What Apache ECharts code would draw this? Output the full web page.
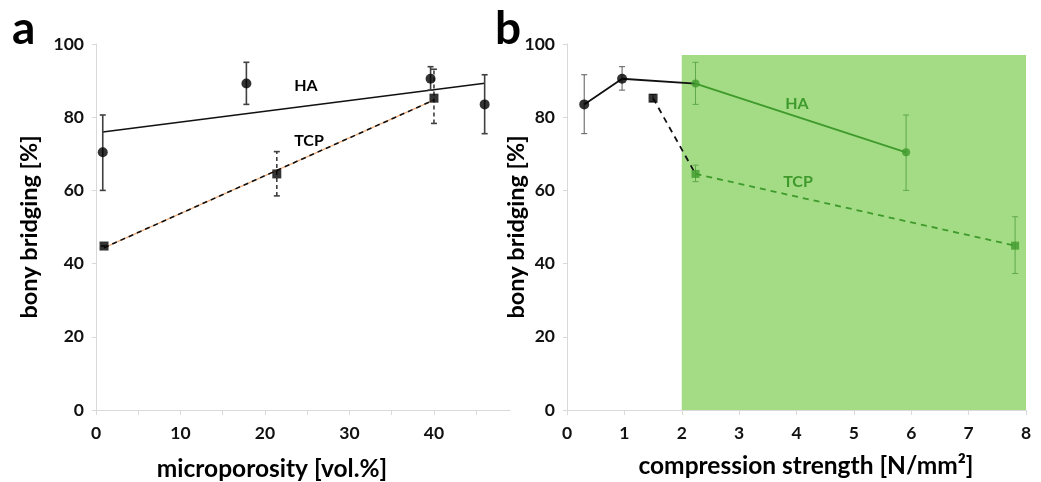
<!DOCTYPE html>
<html>
<head>
<meta charset="utf-8">
<script src="https://cdn.jsdelivr.net/npm/echarts@6/dist/echarts.min.js"></script>
<style>html,body{margin:0;padding:0;background:#fff}#c{width:1041px;height:482px}</style>
</head>
<body>
<div id="c"></div>
<script>
// ---------- Panel a: microporosity ----------
const haPoroX  = [0.8, 17.8, 39.6, 46.0];
const haPoroY  = [70.4, 89.2, 90.5, 83.5];
const haPoroLo = [60.0, 83.5, 87.4, 75.5];
const haPoroHi = [80.6, 95.0, 93.8, 91.6];

const tcpPoroX  = [0.95, 21.4, 40.0];
const tcpPoroY  = [44.8, 64.5, 85.2];
const tcpPoroLo = [44.8, 58.5, 78.3];
const tcpPoroHi = [44.8, 70.6, 93.1];

// ---------- Panel b: compression strength ----------
const haStrBlackX  = [0.3, 0.96, 2.24];
const haStrBlackY  = [83.5, 90.5, 89.2];
const haStrBlackLo = [75.5, 87.4];
const haStrBlackHi = [91.6, 93.8];
const haStrGreenX  = [2.24, 5.91];
const haStrGreenY  = [89.2, 70.4];
const haStrGreenLo = [83.5, 60.0];
const haStrGreenHi = [95.0, 80.6];

const tcpStrBlackX  = [1.5, 2.24];
const tcpStrBlackY  = [85.2, 64.5];
const tcpStrBlackLo = [84.3];
const tcpStrBlackHi = [86.2];
const tcpStrGreenX  = [2.24, 7.81];
const tcpStrGreenY  = [64.5, 44.9];
const tcpStrGreenLo = [62.4, 37.3];
const tcpStrGreenHi = [66.9, 52.8];

// shaded region in panel b (strength range, bony bridging range)
const shadeX = [2, 8];
const shadeY = [0, 97];

// tick labels
const yTicks = [0, 20, 40, 60, 80, 100];
const poroLabels = [0, 10, 20, 30, 40];
const poroTicks = [0, 5, 10, 15, 20, 25, 30, 35, 40, 45];
const strTicks = [0, 1, 2, 3, 4, 5, 6, 7, 8];

const FONT = 'Lato, "Open Sans", sans-serif';
const GREEN = '#3F9A2C';
const SHADE = '#A3DC85';

function pts(xs, ys, n) { return (n ? xs.slice(0, n) : xs).map((x, i) => [x, ys[i]]); }
function errs(xs, lo, hi) { return lo.map((l, i) => [xs[i], l, hi[i]]); }
function regression(xs, ys) {
  const n = xs.length;
  const mx = xs.reduce((a, b) => a + b, 0) / n;
  const my = ys.reduce((a, b) => a + b, 0) / n;
  let sxy = 0, sxx = 0;
  for (let i = 0; i < n; i++) { sxy += (xs[i] - mx) * (ys[i] - my); sxx += (xs[i] - mx) ** 2; }
  const b = sxy / sxx, a = my - b * mx;
  const x0 = Math.min(...xs), x1 = Math.max(...xs);
  return [[x0, a + b * x0], [x1, a + b * x1]];
}

function errSeries(xi, yi, data, color, width, dashed, z) {
  return {
    type: 'custom', xAxisIndex: xi, yAxisIndex: yi, z: z || 3, silent: true,
    data: data,
    renderItem: function (params, api) {
      const x = api.value(0);
      const p1 = api.coord([x, api.value(1)]);
      const p2 = api.coord([x, api.value(2)]);
      const st = { stroke: color, lineWidth: width, lineDash: dashed ? [4, 3] : null };
      const cw = 3;
      return {
        type: 'group', children: [
          { type: 'line', shape: { x1: p1[0], y1: p1[1], x2: p2[0], y2: p2[1] }, style: st },
          { type: 'line', shape: { x1: p1[0] - cw, y1: p1[1], x2: p1[0] + cw, y2: p1[1] }, style: { stroke: color, lineWidth: width } },
          { type: 'line', shape: { x1: p2[0] - cw, y1: p2[1], x2: p2[0] + cw, y2: p2[1] }, style: { stroke: color, lineWidth: width } }
        ]
      };
    }
  };
}

const axisLineStyle = { lineStyle: { color: '#D9D9D9', width: 1 } };
const tickLabel = { color: '#111', fontFamily: FONT, fontWeight: 'bold', fontSize: 17.5 };

function yAxis(idx) {
  return {
    type: 'value', gridIndex: idx, min: 0, max: 100, interval: 20,
    axisLine: Object.assign({ show: true }, axisLineStyle),
    axisTick: { show: true, length: 4, lineStyle: { color: '#D9D9D9' } },
    splitLine: { show: false },
    axisLabel: Object.assign({ margin: 12, customValues: yTicks }, tickLabel)
  };
}

const chart = echarts.init(document.getElementById('c'), null, { renderer: 'canvas' });

const haReg = regression(haPoroX, haPoroY);
const tcpReg = regression(tcpPoroX, tcpPoroY);

chart.setOption({
  animation: false,
  backgroundColor: '#fff',
  grid: [
    { left: 96, top: 44, width: 414, height: 366 },
    { left: 567, top: 44, width: 459, height: 366 }
  ],
  xAxis: [
    {
      type: 'value', gridIndex: 0, min: 0, max: 49,
      axisLine: Object.assign({ show: true, onZero: false }, axisLineStyle),
      axisTick: { show: true, length: 5, lineStyle: { color: '#D9D9D9' }, customValues: poroTicks },
      splitLine: { show: false },
      axisLabel: Object.assign({ margin: 14, customValues: poroLabels }, tickLabel)
    },
    {
      type: 'value', gridIndex: 1, min: 0, max: 8, interval: 1,
      axisLine: Object.assign({ show: true, onZero: false }, axisLineStyle),
      axisTick: { show: true, length: 5, lineStyle: { color: '#D9D9D9' }, customValues: strTicks },
      splitLine: { show: false },
      axisLabel: Object.assign({ margin: 14, customValues: strTicks }, tickLabel)
    }
  ],
  yAxis: [yAxis(0), yAxis(1)],
  series: [
    // ----- panel a -----
    { type: 'line', xAxisIndex: 0, yAxisIndex: 0, data: haReg, showSymbol: false, z: 2,
      lineStyle: { color: '#111', width: 1.6 } },
    { type: 'line', xAxisIndex: 0, yAxisIndex: 0, data: tcpReg, showSymbol: false, z: 2,
      lineStyle: { color: '#F4A46A', width: 1.3 } },
    { type: 'line', xAxisIndex: 0, yAxisIndex: 0, data: tcpReg, showSymbol: false, z: 2,
      lineStyle: { color: '#111', width: 1.6, type: [5, 4] } },
    errSeries(0, 0, errs(haPoroX, haPoroLo, haPoroHi), '#404040', 1.6, false),
    errSeries(0, 0, errs(tcpPoroX, tcpPoroLo, tcpPoroHi), '#404040', 1.6, true),
    { type: 'scatter', xAxisIndex: 0, yAxisIndex: 0, data: pts(haPoroX, haPoroY), symbol: 'circle', symbolSize: 10, z: 5,
      itemStyle: { color: '#000' } },
    { type: 'scatter', xAxisIndex: 0, yAxisIndex: 0, data: pts(tcpPoroX, tcpPoroY), symbol: 'rect', symbolSize: 9, z: 5,
      itemStyle: { color: '#000' } },
    // ----- panel b -----
    { type: 'line', xAxisIndex: 1, yAxisIndex: 1, data: [], z: 0, silent: true,
      markArea: { silent: true, itemStyle: { color: SHADE, opacity: 1 },
        data: [[{ coord: [shadeX[0], shadeY[0]] }, { coord: [shadeX[1], shadeY[1]] }]] } },
    { type: 'line', xAxisIndex: 1, yAxisIndex: 1, data: pts(haStrBlackX, haStrBlackY), showSymbol: false, z: 2,
      lineStyle: { color: '#111', width: 1.8 } },
    { type: 'line', xAxisIndex: 1, yAxisIndex: 1, data: pts(tcpStrBlackX, tcpStrBlackY), showSymbol: false, z: 2,
      lineStyle: { color: '#111', width: 1.8, type: [6, 5] } },
    { type: 'line', xAxisIndex: 1, yAxisIndex: 1, data: pts(haStrGreenX, haStrGreenY), showSymbol: false, z: 2,
      lineStyle: { color: GREEN, width: 1.8 } },
    { type: 'line', xAxisIndex: 1, yAxisIndex: 1, data: pts(tcpStrGreenX, tcpStrGreenY), showSymbol: false, z: 2,
      lineStyle: { color: GREEN, width: 1.8, type: [6, 5] } },
    errSeries(1, 1, errs(haStrBlackX, haStrBlackLo, haStrBlackHi), '#595959', 1, false),
    errSeries(1, 1, errs(tcpStrBlackX, tcpStrBlackLo, tcpStrBlackHi), '#595959', 1, false),
    errSeries(1, 1, errs(haStrGreenX, haStrGreenLo, haStrGreenHi), '#5FA84A', 1, false),
    errSeries(1, 1, errs(tcpStrGreenX, tcpStrGreenLo, tcpStrGreenHi), '#5FA84A', 1, false),
    { type: 'scatter', xAxisIndex: 1, yAxisIndex: 1, data: pts(haStrBlackX, haStrBlackY, 2), symbol: 'circle', symbolSize: 10, z: 5,
      itemStyle: { color: '#000' } },
    { type: 'scatter', xAxisIndex: 1, yAxisIndex: 1, data: pts(tcpStrBlackX, tcpStrBlackY, 1), symbol: 'rect', symbolSize: 9, z: 5,
      itemStyle: { color: '#000' } },
    { type: 'scatter', xAxisIndex: 1, yAxisIndex: 1, data: pts(haStrGreenX, haStrGreenY), symbol: 'circle', symbolSize: 8, z: 5,
      itemStyle: { color: GREEN } },
    { type: 'scatter', xAxisIndex: 1, yAxisIndex: 1, data: pts(tcpStrGreenX, tcpStrGreenY), symbol: 'rect', symbolSize: 8, z: 5,
      itemStyle: { color: GREEN } }
  ],
  graphic: [
    { type: 'text', left: 12, top: 6, style: { text: 'a', fill: '#000', font: 'bold 46px ' + FONT } },
    { type: 'text', left: 495, top: 6, style: { text: 'b', fill: '#000', font: 'bold 46px ' + FONT } },
    { type: 'text', x: 29, y: 227, rotation: Math.PI / 2, style: { text: 'bony bridging [%]', fill: '#000', font: 'bold 23.5px ' + FONT, align: 'center', verticalAlign: 'middle' } },
    { type: 'text', x: 516, y: 227, rotation: Math.PI / 2, style: { text: 'bony bridging [%]', fill: '#000', font: 'bold 23.5px ' + FONT, align: 'center', verticalAlign: 'middle' } },
    { type: 'text', x: 272, y: 469, style: { text: 'microporosity [vol.%]', fill: '#000', font: 'bold 24.5px ' + FONT, align: 'center', verticalAlign: 'middle' } },
    { type: 'text', x: 806, y: 466, style: { text: 'compression strength [N/mm²]', fill: '#000', font: 'bold 24.5px ' + FONT, align: 'center', verticalAlign: 'middle' } },
    { type: 'text', x: 306, y: 86, z: 10, style: { text: 'HA', fill: '#000', font: 'bold 16px ' + FONT, align: 'center', verticalAlign: 'middle' } },
    { type: 'text', x: 309, y: 141, z: 10, style: { text: 'TCP', fill: '#000', font: 'bold 16px ' + FONT, align: 'center', verticalAlign: 'middle' } },
    { type: 'text', x: 797, y: 104, z: 10, style: { text: 'HA', fill: GREEN, font: 'bold 16px ' + FONT, align: 'center', verticalAlign: 'middle' } },
    { type: 'text', x: 798, y: 182, z: 10, style: { text: 'TCP', fill: GREEN, font: 'bold 16px ' + FONT, align: 'center', verticalAlign: 'middle' } }
  ]
});
</script>
</body>
</html>
